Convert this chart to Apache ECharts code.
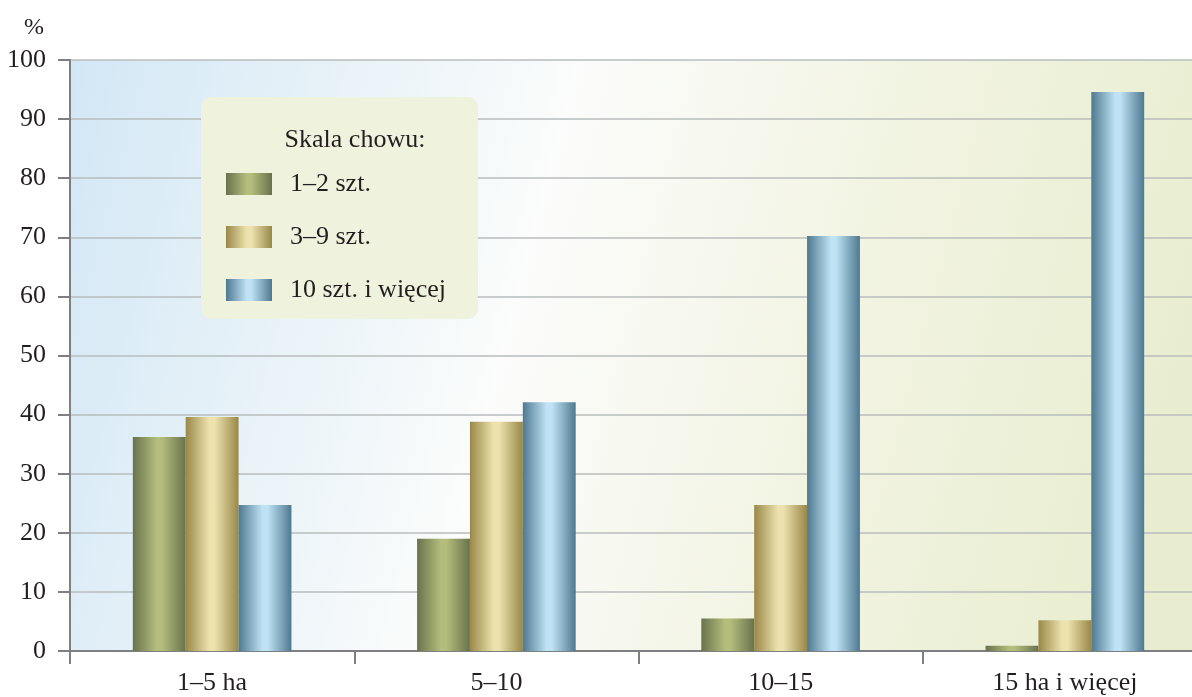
<!DOCTYPE html>
<html>
<head>
<meta charset="utf-8">
<script src="https://cdn.jsdelivr.net/npm/echarts@6/dist/echarts.min.js"></script>
<style>
  html, body { margin: 0; padding: 0; background: #fff; overflow: hidden; }
  /* plot runs past the right edge of the window, as in the source */
  #chart { width: 1207px; height: 697px; }
</style>
</head>
<body>
<div id="chart"></div>
<script>
// categories (farm size) and series values, in %
const categories = ["1–5 ha", "5–10", "10–15", "15 ha i więcej"];
const seriesNames = ["1–2 szt.", "3–9 szt.", "10 szt. i więcej"];
const small = [36.2, 19.0, 5.5, 0.9];
const medium = [39.6, 38.8, 24.7, 5.2];
const large = [24.7, 42.1, 70.2, 94.6];
const yTicks = [0, 10, 20, 30, 40, 50, 60, 70, 80, 90, 100];

const FONT = "'Liberation Serif', 'DejaVu Serif', serif";
const TXT = "#231f20";

// cylinder-like shading for bars
function tube(edge, mid) {
  return new echarts.graphic.LinearGradient(0, 0, 1, 0, [
    { offset: 0, color: edge },
    { offset: 0.45, color: mid },
    { offset: 0.55, color: mid },
    { offset: 1, color: edge },
  ]);
}

const colors = [
  tube("#68734d", "#b4bd7c"),
  tube("#998848", "#ede2ae"),
  tube("#4e7991", "#bfe2f4"),
];

const chart = echarts.init(document.getElementById("chart"));

chart.setOption({
  animation: false,
  textStyle: { fontFamily: FONT, color: TXT },
  title: {
    text: "Skala chowu:",
    left: 350,
    top: 122,
    textAlign: "center",
    z: 10,
    textStyle: { fontFamily: FONT, fontSize: 26, fontWeight: "normal", color: TXT },
  },
  legend: {
    orient: "vertical",
    left: 201,
    top: 97,
    data: seriesNames,
    icon: "rect",
    itemWidth: 46,
    itemHeight: 22,
    itemGap: 27,
    padding: [74, 32, 16, 25],
    backgroundColor: "#eff2dc",
    borderRadius: 10,
    textStyle: { fontFamily: FONT, fontSize: 26, color: TXT, padding: [0, 0, 0, 13] },
  },
  grid: {
    left: 70,
    right: 0,
    top: 60,
    bottom: 46,
    show: true,
    borderWidth: 0,
    backgroundColor: new echarts.graphic.LinearGradient(0, 0, 1, 0.5, [
      { offset: 0, color: "#d2e7f5" },
      { offset: 0.42, color: "#fbfcfb" },
      { offset: 0.7, color: "#f2f4e2" },
      { offset: 1, color: "#e8edcf" },
    ]),
  },
  xAxis: {
    type: "category",
    data: categories,
    axisLine: { lineStyle: { color: "#7d7f80", width: 2 } },
    axisTick: { show: true, length: 13, lineStyle: { color: "#7d7f80", width: 2 } },
    axisLabel: { fontFamily: FONT, fontSize: 26, color: TXT, margin: 19 },
  },
  yAxis: {
    type: "value",
    min: yTicks[0],
    max: yTicks[yTicks.length - 1],
    interval: 10,
    name: "%",
    nameLocation: "end",
    nameGap: 20,
    nameTextStyle: { fontFamily: FONT, fontSize: 24, color: TXT, align: "right", padding: [0, 26, 0, 0] },
    axisLine: { show: true, lineStyle: { color: "#7d7f80", width: 2 } },
    axisTick: { show: true, length: 12, lineStyle: { color: "#7d7f80", width: 2 } },
    axisLabel: { fontFamily: FONT, fontSize: 26, color: TXT, margin: 24 },
    splitLine: { lineStyle: { color: "#b9bdbd", width: 1.5 } },
  },
  series: [small, medium, large].map((vals, i) => ({
    name: seriesNames[i],
    type: "bar",
    data: vals,
    barWidth: "18.6%",
    barGap: "0%",
    itemStyle: { color: colors[i] },
  })),
});
</script>
</body>
</html>
